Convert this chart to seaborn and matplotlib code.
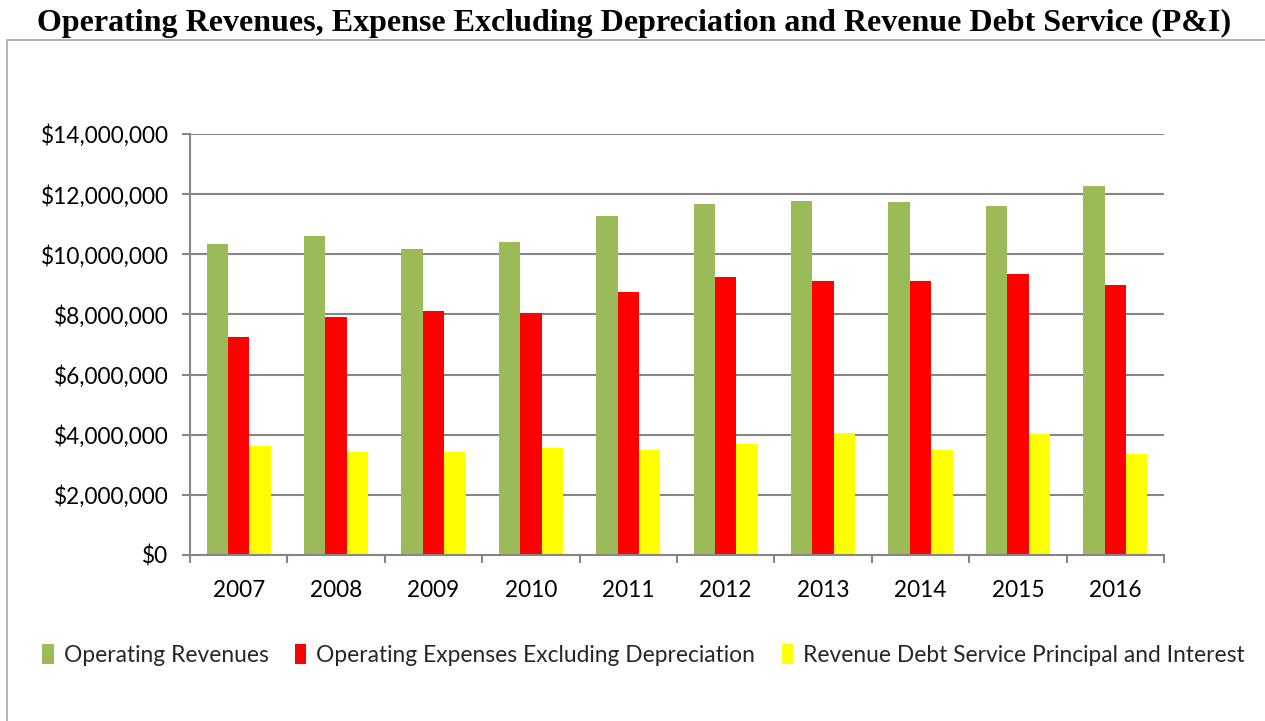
import matplotlib
matplotlib.use("Agg")
import matplotlib.pyplot as plt
import seaborn as sns
import pandas as pd
from matplotlib.patches import Rectangle, Patch
from matplotlib.ticker import FuncFormatter, FixedLocator

years = ["2007", "2008", "2009", "2010", "2011", "2012", "2013", "2014", "2015", "2016"]
series_names = ["Operating Revenues",
                "Operating Expenses Excluding Depreciation",
                "Revenue Debt Service Principal and Interest"]
operating_revenues = [10340000, 10610000, 10180000, 10410000, 11270000,
                      11670000, 11770000, 11740000, 11610000, 12270000]
operating_expenses = [7250000, 7910000, 8110000, 8050000, 8750000,
                      9250000, 9110000, 9110000, 9340000, 8980000]
debt_service = [3620000, 3430000, 3430000, 3560000, 3490000,
                3690000, 4060000, 3490000, 4020000, 3360000]
colors = ["#9BBB59", "#FF0000", "#FFFF00"]

df = pd.DataFrame({
    "Year": years * 3,
    "Series": [series_names[0]] * 10 + [series_names[1]] * 10 + [series_names[2]] * 10,
    "Value": operating_revenues + operating_expenses + debt_service,
})

sns.set_theme(style="white")
plt.rcParams["font.family"] = ["Lato", "DejaVu Sans"]

W, H = 1265, 721
fig = plt.figure(figsize=(W / 100, H / 100), dpi=100)
ax = fig.add_axes([190 / W, 1 - 555 / H, (1164 - 190) / W, (555 - 134) / H])

sns.barplot(data=df, x="Year", y="Value", hue="Series", hue_order=series_names,
            palette=colors, width=0.66, gap=0, saturation=1, ax=ax,
            errorbar=None, legend=False, edgecolor="none", linewidth=0)

grid_color = "#868686"
ax.set_ylim(0, 14000000)
ax.set_xlim(-0.5, 9.5)
ax.set_yticks(range(0, 14000001, 2000000))
ax.yaxis.set_major_formatter(FuncFormatter(lambda v, p: "${:,.0f}".format(v)))
ax.yaxis.grid(True, color=grid_color, linewidth=1.5)
ax.set_axisbelow(True)
ax.set_xlabel("")
ax.set_ylabel("")
for s in ["top", "right"]:
    ax.spines[s].set_visible(False)
for s in ["left", "bottom"]:
    ax.spines[s].set_color(grid_color)
    ax.spines[s].set_linewidth(1.5)
ax.tick_params(axis="y", which="major", left=True, length=5.5, width=1.5,
               color=grid_color, labelsize=16.3, labelcolor="black", pad=10)
ax.tick_params(axis="x", which="major", bottom=False, length=0,
               labelsize=16.3, labelcolor="black", pad=18)
ax.xaxis.set_minor_locator(FixedLocator([i - 0.5 for i in range(11)]))
ax.tick_params(axis="x", which="minor", bottom=True, length=6, width=1.5,
               color=grid_color)

handles = [Patch(facecolor=c, edgecolor="none") for c in colors]
fig.legend(handles, series_names, loc="center left",
           bbox_to_anchor=(33 / W, 1 - 655 / H), ncol=3, frameon=False,
           fontsize=16.4, handlelength=0.5, handleheight=0.95,
           handletextpad=0.45, columnspacing=1.15, borderaxespad=0)

fig.text(634 / W, 1 - 23 / H,
         "Operating Revenues, Expense Excluding Depreciation and Revenue Debt Service (P&I)",
         ha="center", va="center", fontsize=23.0, fontweight="bold", color="black",
         family=["Liberation Serif", "DejaVu Serif"])

fig.patches.append(Rectangle((7 / W, -0.1), 1.2, 1 - 40 / H + 0.1,
                             transform=fig.transFigure, fill=False,
                             edgecolor="#A6A6A6", linewidth=1.2))

fig.savefig("out.png", dpi=100)
